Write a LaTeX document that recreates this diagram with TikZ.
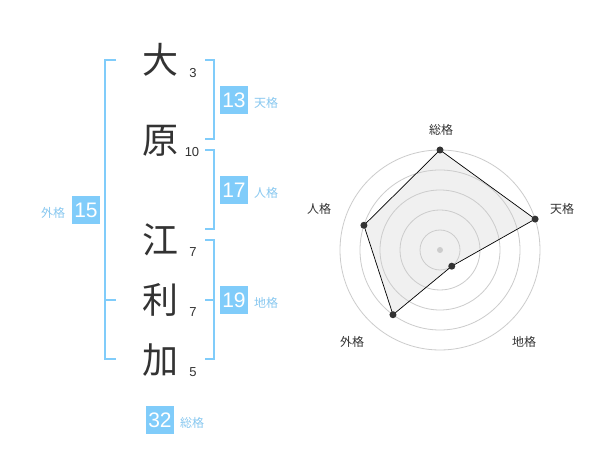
\documentclass[tikz,border=0pt]{standalone}
\usepackage{fontspec}
\setmainfont{Liberation Sans}
\newfontfamily\jp{Noto Sans CJK JP}
\usepackage{tikz}
\definecolor{kakublue}{HTML}{80CCFA}
\definecolor{kakutext}{HTML}{88C8F0}
\definecolor{inkgray}{HTML}{333333}
\tikzset{
  kanji/.style={text=inkgray,font=\jp\fontsize{36}{36}\selectfont,inner sep=0pt},
  strokes/.style={text=inkgray,font=\fontsize{13}{13}\selectfont,inner sep=0pt},
  kakubox/.style={fill=kakublue,text=white,minimum size=28.5pt,inner sep=0pt,font=\fontsize{21}{21}\selectfont},
  kakuname/.style={text=kakutext,font=\jp\fontsize{12}{12}\selectfont,inner sep=0pt},
  bracket/.style={draw=kakublue,line width=2pt},
  ring/.style={draw=black!20,line width=0.8pt},
  radardot/.style={circle,fill=inkgray,inner sep=0pt,minimum size=7pt},
  axisname/.style={text=inkgray,font=\jp\fontsize{12}{12}\selectfont,inner sep=0pt}
}
\begin{document}
\begin{tikzpicture}[x=1pt,y=-1pt]
                      \useasboundingbox[fill=white](0,0)rectangle(600,470);
                      % name characters and stroke counts
                      \node[kanji](c1)at(160,60){大};
                      \node[kanji](c2)at(160,141){原};
                      \node[kanji](c3)at(160,240){江};
                      \node[kanji](c4)at(160,300){利};
                      \node[kanji](c5)at(160,360){加};
                      \node[strokes](s1)at(193,73){3};
                      \node[strokes](s2)at(192,152){10};
                      \node[strokes](s3)at(193,252){7};
                      \node[strokes](s4)at(193,312){7};
                      \node[strokes](s5)at(193,372){5};
                      % brackets
                      \draw[bracket](116,60)--(105,60)--(105,359)--(116,359);
                      \draw[bracket](105,300)--(116,300);
                      \draw[bracket](205,60)--(214,60)--(214,139)--(205,139);
                      \draw[bracket](205,150)--(214,150)--(214,229)--(205,229);
                      \draw[bracket](205,240)--(214,240)--(214,359)--(205,359);
                      \draw[bracket](205,300)--(214,300);
                      % scores
                      \node[kakubox](ten)at(234,100){13};
                      \node[kakubox](jin)at(234,190){17};
                      \node[kakubox](chi)at(234,300){19};
                      \node[kakubox](gai)at(86,210){15};
                      \node[kakubox](sou)at(160,420){32};
                      \node[kakuname](tenname)at(266,103){天格};
                      \node[kakuname](jinname)at(266,193){人格};
                      \node[kakuname](chiname)at(266,303){地格};
                      \node[kakuname](gainame)at(53,213){外格};
                      \node[kakuname](souname)at(192,423){総格};
                      % radar chart
                      \begin{scope}[shift={(440,250)}]
                      \coordinate(o)at(0,0);
                      \coordinate(r1)at(-90:100);
                      \coordinate(r2)at(-18:100);
                      \coordinate(r3)at(54:20);
                      \coordinate(r4)at(126:80);
                      \coordinate(r5)at(198:80);
                      \fill[black!6](r1)--(r2)--(r3)--(r4)--(r5)--cycle;
                      \foreach \r in {20,40,...,100}
                        \draw[ring](o)circle(\r);
                      \draw[black,line width=0.7pt](r1)--(r2)--(r3)--(r4)--(r5)--cycle;
                      \foreach \p in {r1,r2,r3,r4,r5}
                        \node[radardot](d\p)at(\p){};
                      \node[circle,fill=black!20,inner sep=0pt,minimum size=6pt](mid)at(o){};
                      \end{scope}
                      \node[axisname](a1)at(441,130){総格};
                      \node[axisname](a2)at(562,209){天格};
                      \node[axisname](a3)at(524,342){地格};
                      \node[axisname](a4)at(352,342){外格};
                      \node[axisname](a5)at(319,209){人格};
                  \end{tikzpicture}
\end{document}
